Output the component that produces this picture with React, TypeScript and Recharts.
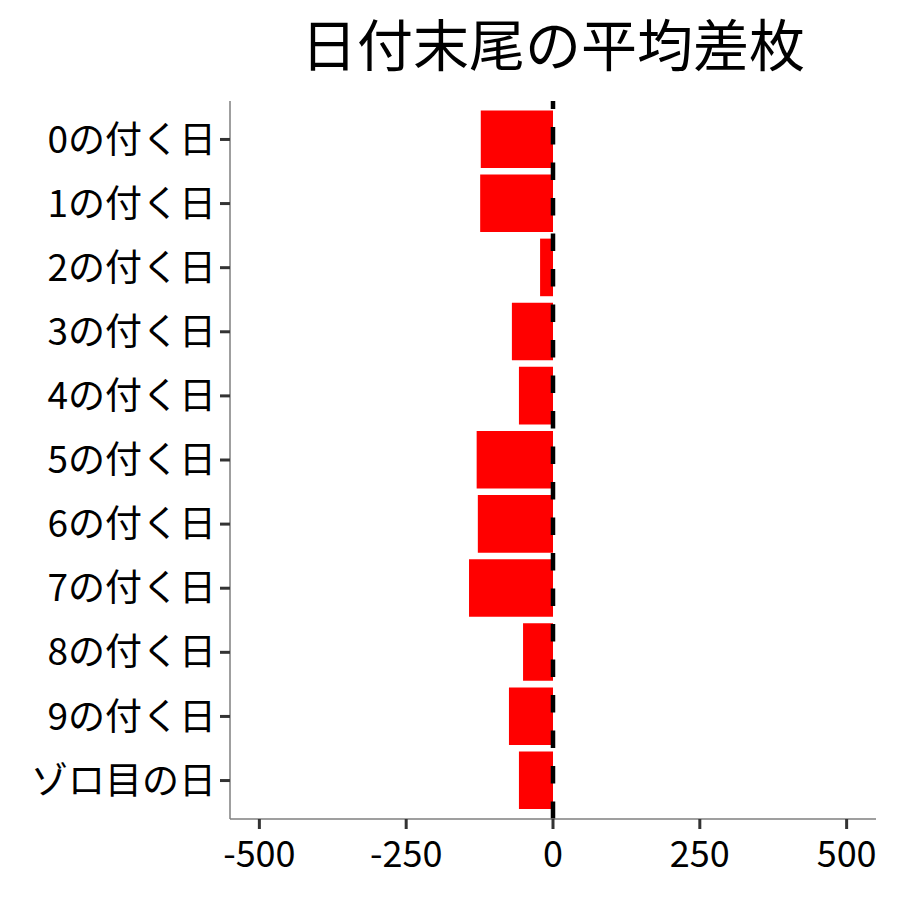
import React from "react";
import { BarChart, Bar, XAxis, YAxis, ReferenceLine } from "recharts";

const categories = [
  "0の付く日",
  "1の付く日",
  "2の付く日",
  "3の付く日",
  "4の付く日",
  "5の付く日",
  "6の付く日",
  "7の付く日",
  "8の付く日",
  "9の付く日",
  "ゾロ目の日",
];
const values = [-123, -124, -22, -70, -58, -130, -128, -143, -51, -75, -58];
const xTicks = [-500, -250, 0, 250, 500];
const title = "日付末尾の平均差枚";

const data = categories.map((c, i) => ({ label: c, value: values[i] }));

const FONT = "'Noto Sans CJK JP', 'Noto Sans', sans-serif";

const DashedZero = (p: any) => {
  const yb = Math.max(p.y1, p.y2);
  const yt = Math.min(p.y1, p.y2);
  return (
    <line
      x1={p.x1}
      x2={p.x2}
      y1={yb}
      y2={yt}
      stroke="#000"
      strokeWidth={4.5}
      strokeDasharray="17.5 18"
    />
  );
};

export default function App() {
  return (
    <div style={{ position: "relative", width: 892, height: 892, fontFamily: FONT }}>
      <div
        style={{
          position: "absolute",
          left: 222,
          width: 646,
          top: 6,
          fontSize: 56,
          lineHeight: "56px",
          textAlign: "center",
          color: "#000",
          whiteSpace: "nowrap",
        }}
      >
        {title}
      </div>
      <BarChart
        width={892}
        height={892}
        data={data}
        layout="vertical"
        margin={{ top: 93, right: 24, bottom: 21, left: 0 }}
      >
        <XAxis
          type="number"
          domain={[-550, 550]}
          ticks={xTicks}
          allowDataOverflow
          height={60}
          tickSize={10}
          tickMargin={12}
          axisLine={{ stroke: "#7f7f7f", strokeWidth: 1.5 }}
          tickLine={{ stroke: "#333", strokeWidth: 3 }}
          tick={{ fill: "#000", fontSize: 36, fontFamily: FONT }}
        />
        <YAxis
          type="category"
          dataKey="label"
          width={222}
          padding={{ top: 6.4, bottom: 6.4 }}
          tickSize={10}
          tickMargin={4}
          interval={0}
          axisLine={{ stroke: "#7f7f7f", strokeWidth: 1.5 }}
          tickLine={{ stroke: "#333", strokeWidth: 3 }}
          tick={{ fill: "#000", fontSize: 37, fontFamily: FONT }}
        />
        <Bar dataKey="value" fill="#ff0000" barSize={57.6} isAnimationActive={false} />
        <ReferenceLine x={0} shape={DashedZero} ifOverflow="visible" />
      </BarChart>
    </div>
  );
}
